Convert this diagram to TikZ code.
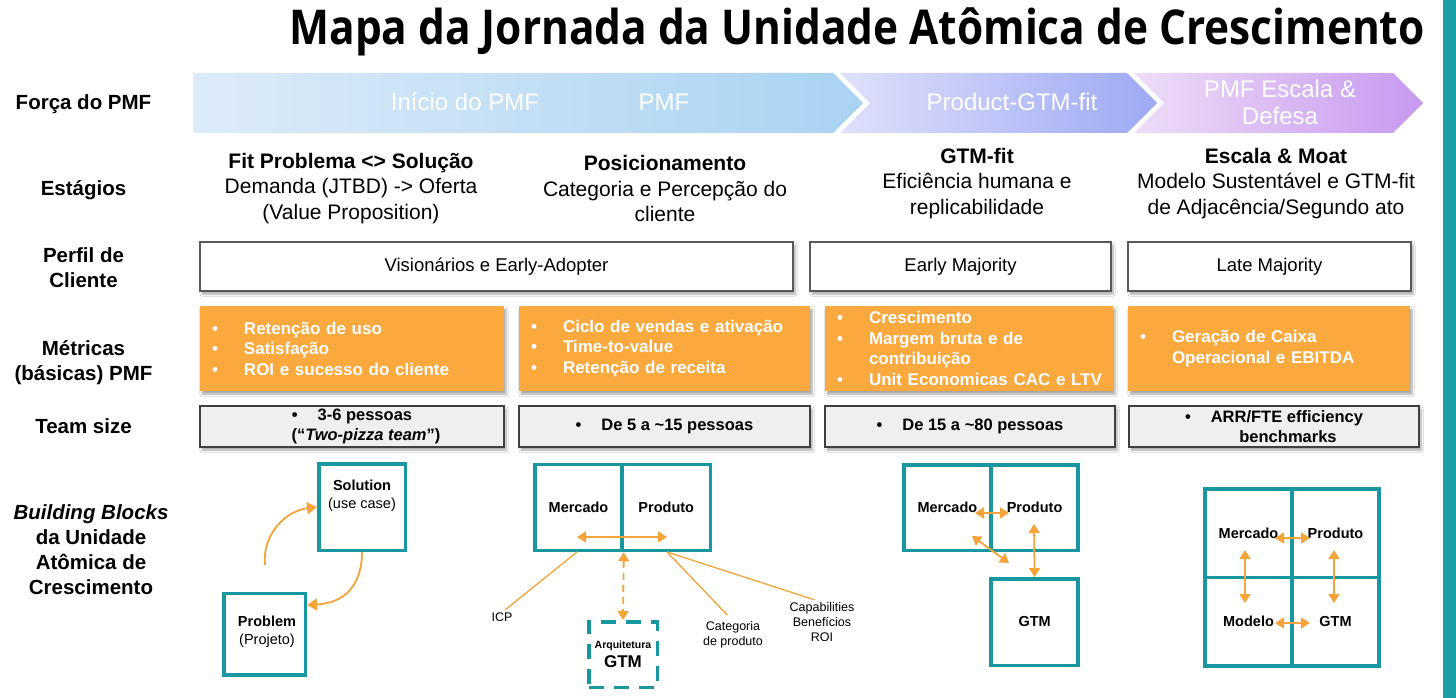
\documentclass[tikz,border=0pt]{standalone}
\usepackage{fontspec}
\setmainfont{Liberation Sans}
\newfontfamily\titlefont{Open Sans}
\usepackage{graphicx}
\usetikzlibrary{arrows.meta,shadows.blur}
\definecolor{tealc}{HTML}{17979F}
\definecolor{tealbar}{HTML}{1A9FA6}
\definecolor{orng}{HTML}{FAA93E}
\definecolor{arrc}{HTML}{F5A43A}
\definecolor{teamfill}{HTML}{EFEFEF}
\definecolor{aAl}{HTML}{DDEBF8}
\definecolor{aAr}{HTML}{A9D3F2}
\definecolor{aBl}{HTML}{DFE0FA}
\definecolor{aBr}{HTML}{9DA9F4}
\definecolor{aCl}{HTML}{EEDDF7}
\definecolor{aCr}{HTML}{C699EF}
\newcommand{\fsz}[2]{\fontsize{#1}{#2}\selectfont}
\newcommand{\bl}[1]{\mbox{\makebox[32pt][l]{\textbullet}#1}}
\tikzset{
 lbl/.style={font=\fsz{20.5}{25}\bfseries, align=center, inner sep=0pt},
 stage/.style={font=\fsz{21}{25.5}, align=center, inner sep=0pt},
 arrtxt/.style={text=white, font=\fsz{24}{27}, align=center, inner sep=0pt},
 shad/.style={blur shadow={shadow xshift=2pt, shadow yshift=-3pt, shadow blur steps=6, shadow opacity=35}},
 perfil/.style={shad, draw=black!65, line width=1.1pt, fill=white, inner sep=0pt, minimum height=49pt, font=\fsz{18.5}{22}},
 metric/.style={shad, fill=orng, text=white, inner xsep=12pt, inner ysep=0pt, minimum height=85pt, align=left, font=\fsz{17}{20.5}\bfseries},
 team/.style={shad, fill=teamfill, draw=black!75, line width=1.1pt, inner sep=0pt, minimum height=41pt, align=center, font=\fsz{16.5}{20}\bfseries},
 bb/.style={draw=tealc, line width=3.5pt, fill=white, inner sep=0pt, font=\fsz{14.5}{18}\bfseries, align=center},
 dbl/.style={draw=arrc, line width=1.8pt, {Triangle[length=9pt,width=11pt]}-{Triangle[length=9pt,width=11pt]}},
 carr/.style={draw=arrc, line width=1.8pt, -{Triangle[length=10pt,width=12pt]}},
 oline/.style={draw=arrc, line width=1.3pt},
 small/.style={font=\fsz{12.5}{15}, align=center, inner sep=0pt},
}
\begin{document}
\begin{tikzpicture}[x=1pt,y=-1pt]
\useasboundingbox (0,0) rectangle (1456,698);
\fill[white] (0,0) rectangle (1456,698);
\fill[tealbar] (1443,0) rectangle (1456,698);

% title
\node[anchor=base, inner sep=0pt, font=\titlefont\bfseries\fsz{48}{50}] (title) at (857,45)
  {\resizebox{1135pt}{\height}{Mapa da Jornada da Unidade Atômica de Crescimento}};

% banner
\shade[left color=aAl, right color=aAr] (193,73) -- (833,73) -- (863,103) -- (833,133) -- (193,133) -- cycle;
\shade[left color=aBl, right color=aBr] (840,73) -- (1127,73) -- (1157,103) -- (1127,133) -- (840,133) -- (870,103) -- cycle;
\shade[left color=aCl, right color=aCr] (1134,73) -- (1393,73) -- (1423,103) -- (1393,133) -- (1134,133) -- (1164,103) -- cycle;
\node[arrtxt] (b1) at (465,102) {Início do PMF};
\node[arrtxt] (b2) at (664,102) {PMF};
\node[arrtxt] (b3) at (1012,102) {Product-GTM-fit};
\node[arrtxt] (b4) at (1280,102) {PMF Escala \&\\Defesa};

% left labels
\node[lbl] (l1) at (83.5,104) {Força do PMF};
\node[lbl] (l2) at (83.5,190) {Estágios};
\node[lbl] (l3) at (83.5,267.5) {Perfil de\\Cliente};
\node[lbl] (l4) at (83.5,362.5) {Métricas\\(básicas) PMF};
\node[lbl] (l5) at (83.5,426) {Team size};
\node[lbl] (l6) at (91,549.5) {\textit{Building Blocks}\\da Unidade\\Atômica de\\Crescimento};

% stages
\node[stage] (s1) at (351,188.5) {\textbf{Fit Problema <> Solução}\\Demanda (JTBD) -> Oferta\\(Value Proposition)};
\node[stage] (s2) at (665,188.5) {\textbf{Posicionamento}\\Categoria e Percepção do\\cliente};
\node[stage] (s3) at (977,183.5) {\textbf{GTM-fit}\\Eficiência humana e\\replicabilidade};
\node[stage] (s4) at (1276,183.5) {\textbf{Escala \& Moat}\\Modelo Sustentável e GTM-fit\\de Adjacência/Segundo ato};

% perfil
\node[perfil, minimum width=593pt] (p1) at (496.5,266.5) {Visionários e Early-Adopter};
\node[perfil, minimum width=301pt] (p2) at (960.5,266.5) {Early Majority};
\node[perfil, minimum width=283pt] (p3) at (1269.5,266.5) {Late Majority};

% metrics
\node[metric, text width=280pt] (m1) at (352,348.5)
  {\bl{Retenção de uso}\\\bl{Satisfação}\\\bl{ROI e sucesso do cliente}};
\node[metric, text width=267pt] (m2) at (664.5,348.5)
  {\bl{Ciclo de vendas e ativação}\\\bl{Time-to-value}\\\bl{Retenção de receita}};
\node[metric, text width=264pt] (m3) at (969,348.5)
  {\bl{Crescimento}\\\bl{Margem bruta e de}\\\hspace*{32pt}contribuição\\\bl{Unit Economicas CAC e LTV}};
\node[metric, text width=258pt] (m4) at (1269,348.5)
  {\bl{Geração de Caixa}\\\hspace*{32pt}Operacional e EBITDA};

% team size
\node[team, minimum width=304pt] (t1) at (352,426.5)
  {\textbullet\hspace{20pt}3-6 pessoas\\\hspace*{28pt}(“\textit{Two-pizza team}”)};
\node[team, minimum width=291pt] (t2) at (664.5,426.5)
  {\textbullet\hspace{20pt}De 5 a \textasciitilde15 pessoas};
\node[team, minimum width=290pt] (t3) at (970,426.5)
  {\textbullet\hspace{20pt}De 15 a \textasciitilde80 pessoas};
\node[team, minimum width=290pt] (t4) at (1274,426.5)
  {\textbullet\hspace{20pt}ARR/FTE efficiency\\\hspace*{28pt}benchmarks};

% building blocks col 1
\node[bb, minimum size=86.5pt] (sol) at (362,507) {};
\node[font=\fsz{14.5}{18}, align=center, inner sep=0pt] (soltxt) at (362,496) {\textbf{Solution}\\(use case)};
\node[bb, minimum size=81.5pt] (prob) at (264.5,634) {};
\node[font=\fsz{14.5}{18}, align=center, inner sep=0pt] (probtxt) at (267,632) {\textbf{Problem}\\(Projeto)};
\coordinate (ca) at (265,565);
\draw[carr] (ca) .. controls (262,535) and (285,511) .. (sol.west);
\draw[carr] (sol.south) .. controls (362,585) and (345,603) .. ([yshift=29pt]prob.east);

% col 2
\node[bb, minimum width=87pt, minimum height=86pt] (merc2) at (578.5,507.5) {Mercado};
\node[bb, minimum width=88.5pt, minimum height=86pt] (prod2) at (666.25,507.5) {Produto};
\node[bb, dash pattern=on 15pt off 10pt, minimum width=68.5pt, minimum height=65.5pt] (arq) at (623,654.5)
  {{\fsz{10.5}{12}Arquitetura}\\[1pt]{\fsz{17}{19}GTM}};
\coordinate (h2a) at (577,537);
\coordinate (h2b) at (667,537);
\draw[dbl] (h2a) -- (h2b);
\draw[dbl, dash pattern=on 7pt off 5pt] (merc2.south east) -- (arq.north);
\node[small] (icp) at (502,617) {ICP};
\node[small] (cat) at (733,634.5) {Categoria\\de produto};
\node[small] (cap) at (822,622) {Capabilities\\Benefícios\\ROI};
\coordinate (o1) at (577,552);
\coordinate (o2) at (667,552);
\draw[oline, shorten >=4pt] (o1) -- (icp.north);
\draw[oline, shorten >=8pt] (o2) -- (cat.north);
\draw[oline, shorten >=8pt] (o2) -- (cap.north);

% col 3
\node[bb, minimum width=87.25pt, minimum height=85.5pt] (merc3) at (947.4,507.5) {Mercado};
\node[bb, minimum width=87.25pt, minimum height=85.5pt] (prod3) at (1034.6,507.5) {Produto};
\node[bb, minimum width=87.25pt, minimum height=86.5pt] (gtm3) at (1034.6,622) {GTM};
\coordinate (h3a) at (975,513);
\coordinate (h3b) at (1009,513);
\coordinate (d3a) at (972,536);
\coordinate (d3b) at (1009,563);
\coordinate (v3a) at (1034,524);
\draw[dbl] (h3a) -- (h3b);
\draw[dbl] (d3a) -- (d3b);
\draw[dbl] (v3a) -- (gtm3.north);

% col 4
\node[bb, minimum width=87pt, minimum height=88.5pt] (merc4) at (1248.5,533.25) {Mercado};
\node[bb, minimum width=87pt, minimum height=88.5pt] (prod4) at (1335.5,533.25) {Produto};
\node[bb, minimum width=87pt, minimum height=88.5pt] (mod4) at (1248.5,621.75) {Modelo};
\node[bb, minimum width=87pt, minimum height=88.5pt] (gtm4) at (1335.5,621.75) {GTM};
\coordinate (h4a) at (1275,538);
\coordinate (h4b) at (1310,538);
\coordinate (h4c) at (1275,623);
\coordinate (h4d) at (1310,623);
\coordinate (v4a) at (1245,550);
\coordinate (v4b) at (1245,603);
\coordinate (v4c) at (1334,550);
\coordinate (v4d) at (1334,603);
\draw[dbl] (h4a) -- (h4b);
\draw[dbl] (h4c) -- (h4d);
\draw[dbl] (v4a) -- (v4b);
\draw[dbl] (v4c) -- (v4d);
\end{tikzpicture}
\end{document}
